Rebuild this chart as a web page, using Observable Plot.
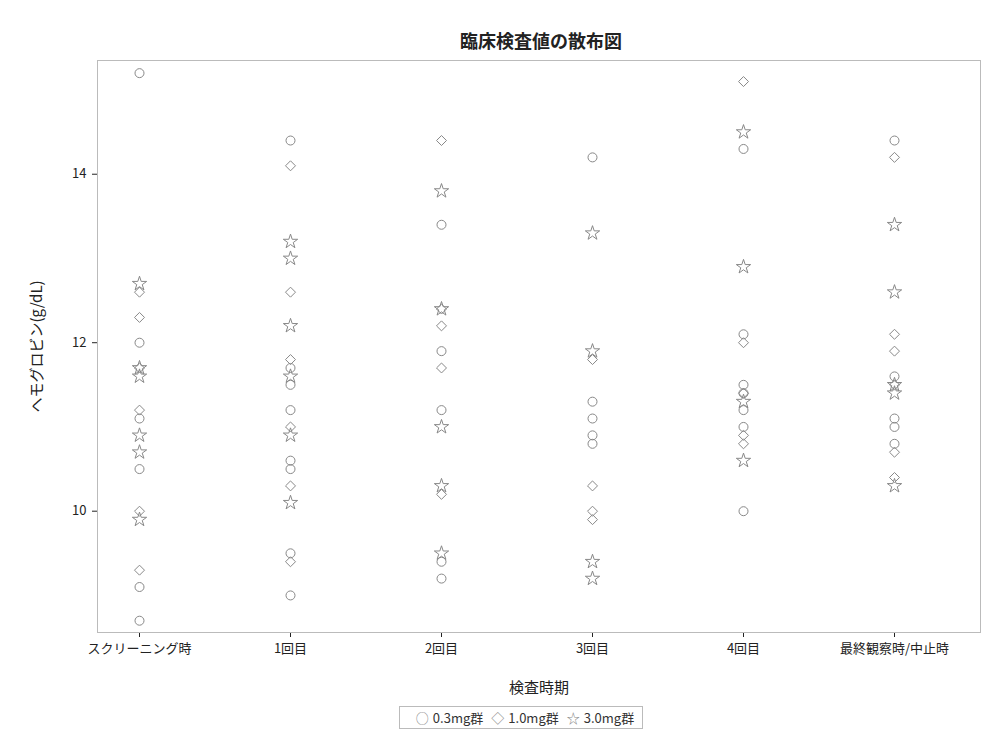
<!DOCTYPE html>
<html><head><meta charset="utf-8">
<script src="https://cdn.jsdelivr.net/npm/d3@7"></script>
<script src="https://cdn.jsdelivr.net/npm/@observablehq/plot@0.6"></script>
<style>
body{margin:0;background:#fff;font-family:"Noto Sans CJK JP","Noto Sans",sans-serif;color:#222}
#title{height:60px;line-height:80px;text-align:center;padding-left:100px;font-size:18px;font-weight:bold;box-sizing:border-box}
#legend{margin:6px auto 0;width:fit-content;position:relative;left:30px;border:1px solid #bbb;padding:1px 8px;font-size:13px;color:#333}
#legend span.s{color:#888;margin-right:4px;margin-left:8px}
</style></head><body>
<div id="title">臨床検査値の散布図</div>
<div id="chart"></div>
<div id="legend"><span class="s">○</span>0.3mg群<span class="s">◇</span>1.0mg群<span class="s">☆</span>3.0mg群</div>
<script>
const visits = ["スクリーニング時", "1回目", "2回目", "3回目", "4回目", "最終観察時/中止時"];
const groups = ["0.3mg群", "1.0mg群", "3.0mg群"];
// values per visit, per group
const g03 = [
  [15.2, 12.0, 11.1, 10.5, 9.1, 8.7],
  [14.4, 11.7, 11.5, 11.2, 10.6, 10.5, 9.5, 9.0],
  [13.4, 11.9, 11.2, 9.4, 9.2],
  [14.2, 11.3, 11.1, 10.9, 10.8],
  [14.3, 12.1, 11.5, 11.4, 11.2, 11.0, 10.0],
  [14.4, 11.6, 11.1, 11.0, 10.8]
];
const g10 = [
  [12.6, 12.3, 11.7, 11.2, 10.0, 9.3],
  [14.1, 12.6, 11.8, 11.0, 10.3, 9.4],
  [14.4, 12.4, 12.2, 11.7, 10.2],
  [11.8, 10.3, 10.0, 9.9],
  [15.1, 12.0, 11.4, 10.9, 10.8],
  [14.2, 12.1, 11.9, 11.5, 10.7, 10.4]
];
const g30 = [
  [12.7, 11.7, 11.6, 10.9, 10.7, 9.9],
  [13.2, 13.0, 12.2, 11.6, 10.9, 10.1],
  [13.8, 12.4, 11.0, 10.3, 9.5],
  [13.3, 11.9, 9.4, 9.2],
  [14.5, 12.9, 11.3, 10.6],
  [13.4, 12.6, 11.5, 11.4, 10.3]
];
const rows = [];
[g03, g10, g30].forEach((g, gi) => g.forEach((vals, vi) => vals.forEach(v =>
  rows.push({visit: visits[vi], group: groups[gi], value: v}))));

const fig = Plot.plot({
  width: 982, height: 640,
  marginLeft: 97, marginRight: 2, marginTop: 0, marginBottom: 68,
  style: {fontFamily: "'Noto Sans CJK JP', sans-serif", fontSize: "13px", color: "#222"},
  x: {type: "point", domain: visits, range: [137, 895], padding: 0, label: "検査時期", labelAnchor: "center", labelOffset: 60, tickSize: 5, tickPadding: 6},
  y: {domain: [8.56, 15.35], ticks: [10, 12, 14], tickFormat: "d", label: "ヘモグロビン(g/dL)", labelArrow: "none", labelAnchor: "center", labelOffset: 66, tickSize: 5, tickPadding: 6},
  symbol: {domain: groups, range: ["circle", "diamond2", "star"]},
  marks: [
    Plot.frame({stroke: "#bbb"}),
    Plot.dot(rows, {x: "visit", y: "value", symbol: "group", r: 4.5, stroke: "#888", fill: "none", strokeWidth: 1})
  ]
});
fig.querySelectorAll("[aria-label='x-axis label'] text, [aria-label='y-axis label'] text").forEach(t => {
  t.style.fontSize = "15px";
  t.textContent = t.textContent.replace(/\s*[→↑]\s*/g, "");
});
document.getElementById("chart").append(fig);
</script>
</body></html>
